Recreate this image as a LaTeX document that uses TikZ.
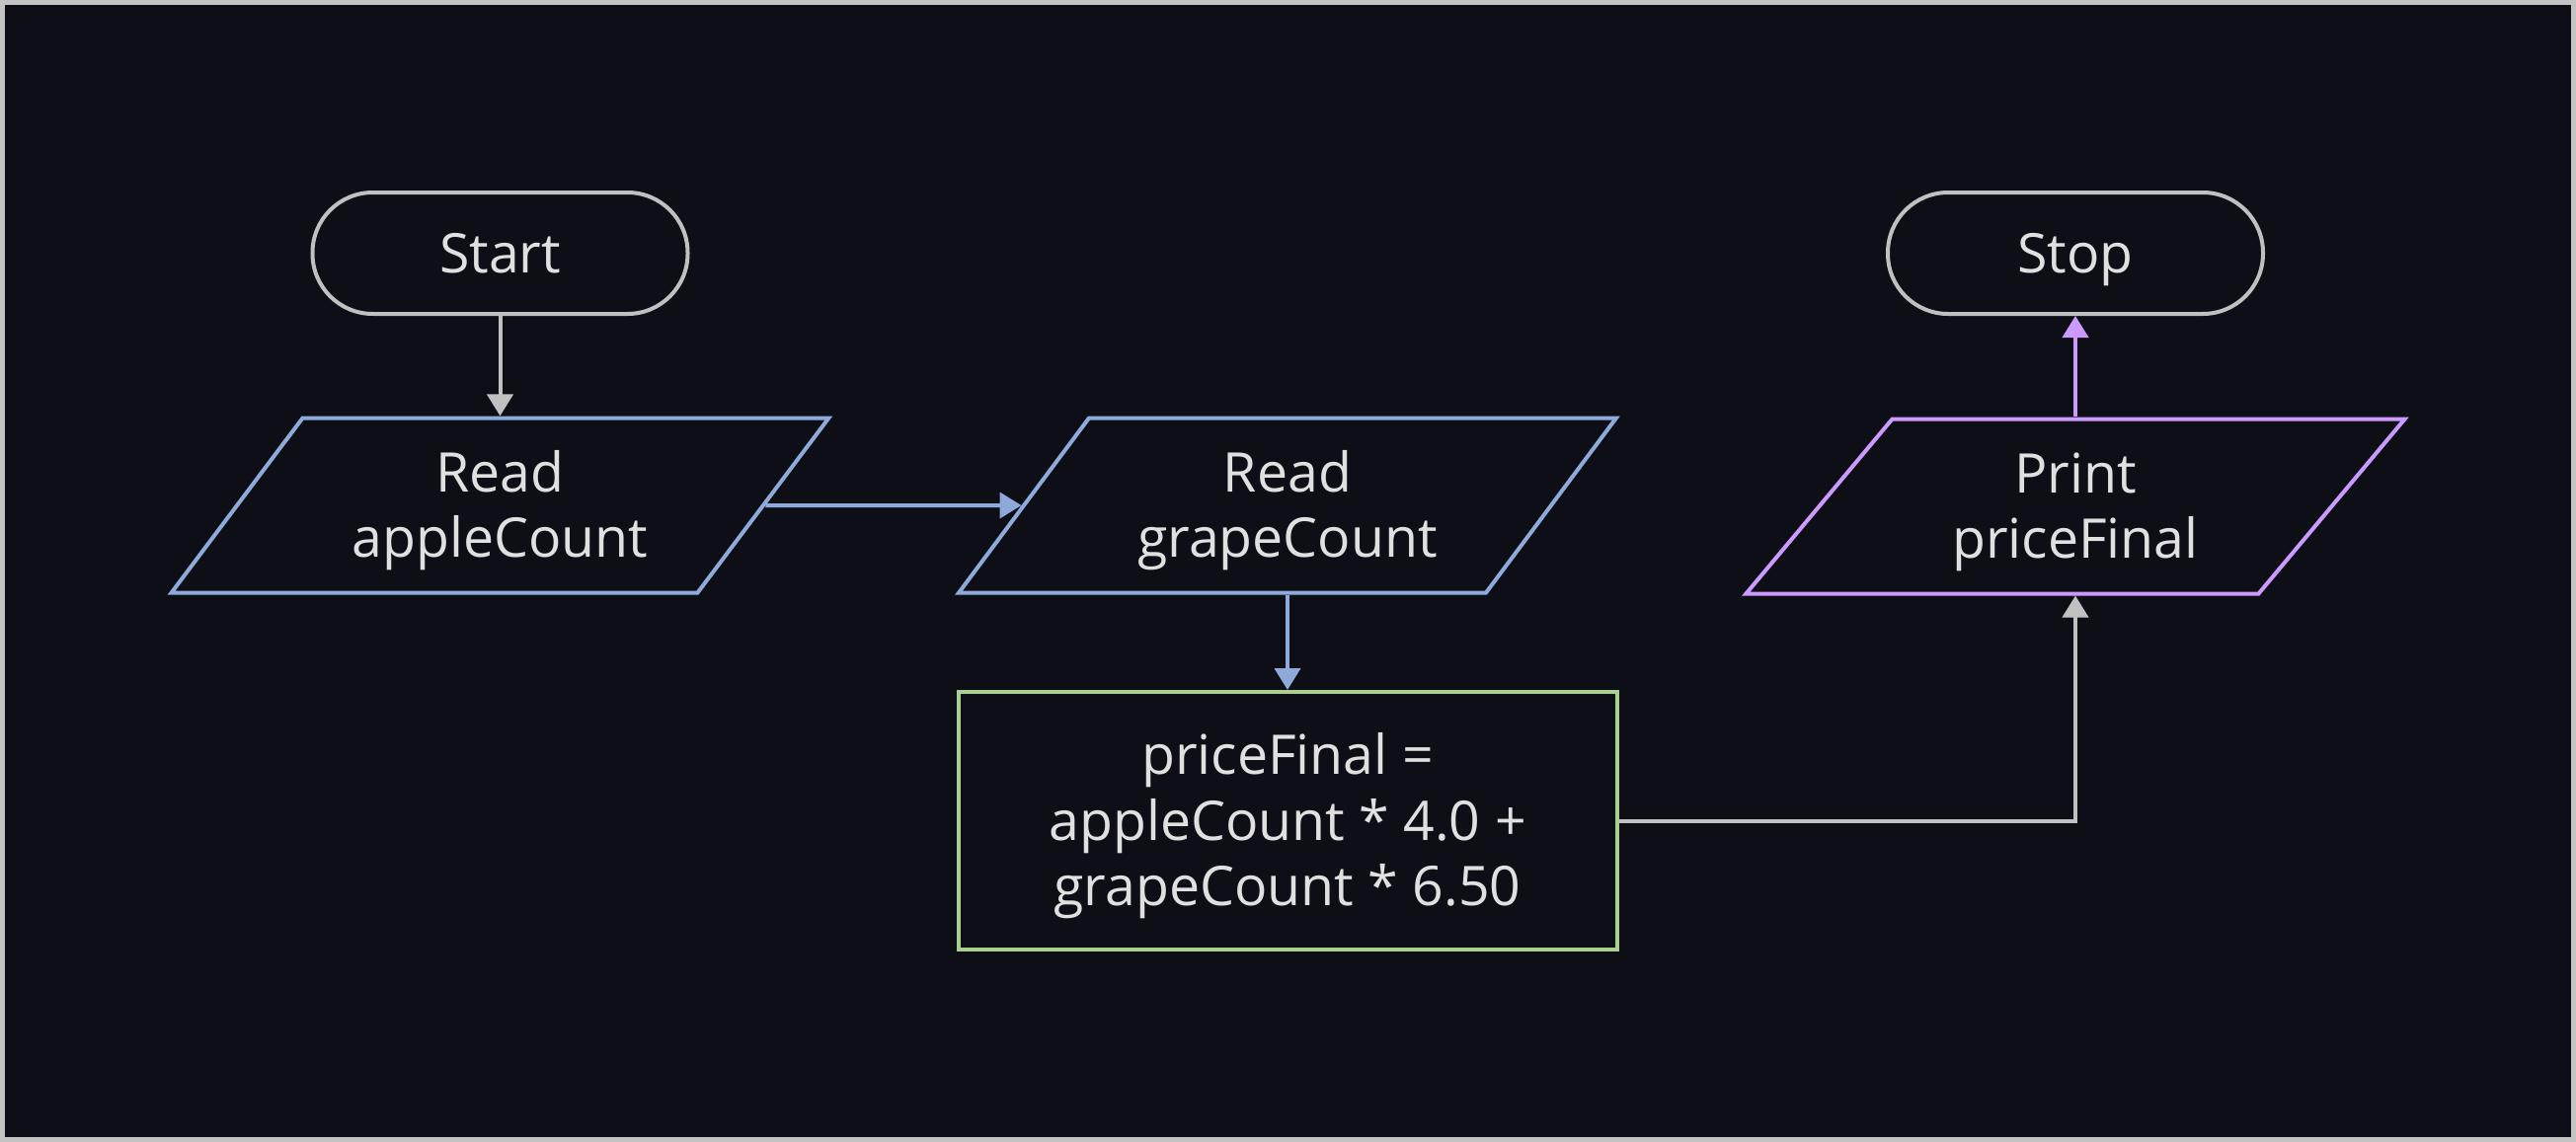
\documentclass[tikz,border=0pt]{standalone}
\usepackage{fontspec}
\setmainfont{Open Sans}
\usetikzlibrary{shapes.geometric,arrows.meta}
\definecolor{bg}{HTML}{0E0F16}
\definecolor{frame}{HTML}{C3C3C3}
\definecolor{edgegray}{HTML}{C0C0C0}
\definecolor{txt}{HTML}{E0E0E0}
\definecolor{ioblue}{HTML}{8EAADB}
\definecolor{procgreen}{HTML}{A9D18E}
\definecolor{outpurple}{HTML}{CC99FF}
\newcommand\lnstrut{\rule[-6.3pt]{0pt}{32.6pt}}
\begin{document}
\begin{tikzpicture}[x=0.5pt,y=-0.5pt,
  base/.style={font=\fontsize{27.7}{33.3}\selectfont, text=txt, line width=2pt, align=center, inner sep=0pt},
  term/.style={base, draw=edgegray, rectangle, rounded corners=30.5pt, minimum width=190pt, minimum height=61.5pt},
  io/.style={base, trapezium, trapezium left angle=53.07, trapezium right angle=126.93, trapezium stretches=true, minimum width=333.75pt, minimum height=88.5pt},
  proc/.style={base, draw=procgreen, rectangle, minimum width=333.5pt, minimum height=130.5pt},
  conn/.style={line width=2pt, -{Triangle[length=11pt,width=13pt]}}]
\useasboundingbox (0,0) rectangle (2609,1157);
\fill[frame] (0,0) rectangle (2609,1157);
\fill[bg] (5,5) rectangle (2604,1152);

\node[term] (start) at (506.5,256.5) {\lnstrut Start};
\node[io, draw=ioblue] (apple) at (506.5,512) {\lnstrut Read\\\lnstrut appleCount};
\node[io, draw=ioblue] (grape) at (1304,512) {\lnstrut Read\\\lnstrut grapeCount};
\node[proc] (calc) at (1304,831.5) {\lnstrut priceFinal =\\\lnstrut appleCount * 4.0 +\\\lnstrut grapeCount * 6.50};
\node[io, draw=outpurple] (print) at (2102,513) {\lnstrut Print\\\lnstrut priceFinal};
\node[term] (stop) at (2102,256.5) {\lnstrut Stop};

\draw[conn, edgegray] (start.south) -- (apple.90);
\draw[conn, ioblue] (apple.0) -- (grape.180);
\draw[conn, ioblue] (grape.270) -- (calc.north);
\draw[conn, edgegray] (calc.east) -| (print.270);
\draw[conn, outpurple] (print.90) -- (stop.south);
\end{tikzpicture}
\end{document}
